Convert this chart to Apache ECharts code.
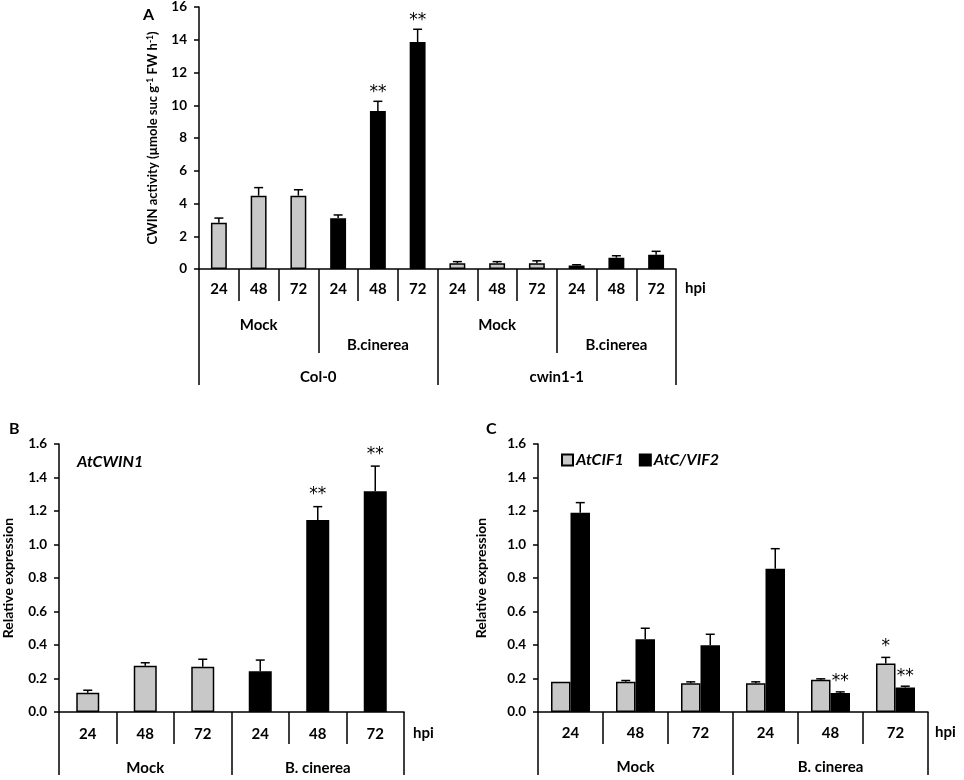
<!DOCTYPE html>
<html>
<head>
<meta charset="utf-8">
<script src="https://cdn.jsdelivr.net/npm/echarts/dist/echarts.min.js"></script>
<style>
html,body{margin:0;padding:0;background:#fff;}
#chart{width:964px;height:780px;}
</style>
</head>
<body>
<div id="chart"></div>
<script>
// ---------- Panel A data ----------
const hpiA = ['24','48','72','24','48','72','24','48','72','24','48','72'];
const treatA = ['Mock','B.cinerea','Mock','B.cinerea'];
const genoA = ['Col-0','cwin1-1'];
const valA = [2.83, 4.48, 4.48, 3.10, 9.65, 13.86, 0.35, 0.35, 0.35, 0.22, 0.69, 0.87];
const errA = [0.28, 0.49, 0.36, 0.20, 0.59, 0.78, 0.10, 0.10, 0.15, 0.04, 0.12, 0.21];
const starA = ['', '', '', '', '**', '**', '', '', '', '', '', ''];
const ticksA = {min: 0, max: 16, interval: 2};

// ---------- Panel B data ----------
const hpiB = ['24','48','72','24','48','72'];
const treatB = ['Mock','B. cinerea'];
const valB = [0.115, 0.276, 0.270, 0.243, 1.146, 1.318];
const errB = [0.015, 0.018, 0.045, 0.067, 0.080, 0.150];
const starB = ['', '', '', '', '**', '**'];

// ---------- Panel C data ----------
const hpiC = ['24','48','72','24','48','72'];
const treatC = ['Mock','B. cinerea'];
const namesC = ['AtCIF1', 'AtC/VIF2'];
const valCIF1 = [0.180, 0.180, 0.172, 0.172, 0.192, 0.290];
const errCIF1 = [0.000, 0.008, 0.008, 0.008, 0.006, 0.036];
const starCIF1 = ['', '', '', '', '', '*'];
const valVIF2 = [1.190, 0.435, 0.398, 0.855, 0.113, 0.147];
const errVIF2 = [0.060, 0.065, 0.066, 0.120, 0.007, 0.007];
const starVIF2 = ['', '', '', '', '**', '**'];
const ticksBC = {min: 0, max: 1.6, interval: 0.2};

// ---------- styles ----------
const FONT = 'Lato';
const STARFONT = 'DejaVu Sans';
const GREY = '#c8c8c8';
const BLACK = '#000000';
const lineSt = {color: '#000', width: 1.5};

function errRender(errs, stars, offFrac, starGap) {
  return function (params, api) {
    const i = api.value(0), v = api.value(1), e = api.value(2);
    const band = api.size([1, 0])[0];
    const p0 = api.coord([i, v]);
    const p1 = api.coord([i, v + e]);
    const x = p0[0] + band * offFrac;
    const children = [];
    if (e > 0) {
      children.push({type: 'line', shape: {x1: x, y1: p0[1], x2: x, y2: p1[1]}, style: {stroke: '#000', lineWidth: 1.5}});
      children.push({type: 'line', shape: {x1: x - 4.5, y1: p1[1], x2: x + 4.5, y2: p1[1]}, style: {stroke: '#000', lineWidth: 1.5}});
    }
    const s = stars[params.dataIndex];
    if (s) {
      children.push({type: 'text', x: x, y: p1[1] - starGap,
        style: {text: s, fill: '#000', font: 'normal 17px "' + STARFONT + '"', align: 'center', verticalAlign: 'middle'}});
    }
    return {type: 'group', children: children};
  };
}

function lvl1Axis(grid, data, margin, nameGap) {
  return {
    type: 'category', gridIndex: grid, position: 'bottom', data: data,
    name: 'hpi', nameLocation: 'end', nameGap: nameGap,
    nameTextStyle: {fontFamily: FONT, fontWeight: 'bold', fontSize: 15, color: '#000', verticalAlign: 'top', padding: [margin - 1, 0, 0, 0]},
    axisLine: {show: true, onZero: false, lineStyle: lineSt},
    axisTick: {show: true, interval: 0, length: 32, lineStyle: lineSt},
    axisLabel: {interval: 0, margin: margin, fontFamily: FONT, fontWeight: 'bold', fontSize: 15, color: '#000'},
    splitLine: {show: false}
  };
}
function lvlNAxis(grid, data, tickLen, margin, stagger) {
  return {
    type: 'category', gridIndex: grid, position: 'bottom', data: data,
    axisLine: {show: false},
    axisTick: {show: true, interval: 0, length: tickLen, lineStyle: lineSt},
    axisLabel: {interval: 0, margin: margin, fontFamily: FONT, fontWeight: 'bold', fontSize: 15, color: '#000', lineHeight: 20,
      formatter: function (v, idx) { return (stagger && idx % 2 === 1) ? '\n' + v : v; }},
    splitLine: {show: false}
  };
}
function yAxisDef(grid, t, name, nameGap, rich, fmt, labelSize) {
  return {
    type: 'value', gridIndex: grid, min: t.min, max: t.max, interval: t.interval,
    name: name, nameLocation: 'middle', nameGap: nameGap, nameRotate: 90,
    nameTextStyle: rich,
    axisLine: {show: true, lineStyle: lineSt},
    axisTick: {show: true, length: 5, lineStyle: lineSt},
    axisLabel: {margin: 12, fontFamily: FONT, fontWeight: 'bold', fontSize: labelSize, color: '#000', formatter: fmt},
    splitLine: {show: false}
  };
}

const barStyle = (isMock) => ({color: isMock ? GREY : BLACK, borderColor: '#000', borderWidth: 1.5});

const option = {
  animation: false,
  backgroundColor: '#fff',
  textStyle: {fontFamily: FONT},
  title: [
    {text: 'A', left: 138, top: 2, textStyle: {fontFamily: FONT, fontWeight: 'bold', fontSize: 16, color: '#000'}},
    {text: 'B', left: 4, top: 416, textStyle: {fontFamily: FONT, fontWeight: 'bold', fontSize: 16, color: '#000'}},
    {text: 'C', left: 481, top: 416, textStyle: {fontFamily: FONT, fontWeight: 'bold', fontSize: 16, color: '#000'}},
    {text: 'AtCWIN1', left: 72, top: 449, textStyle: {fontFamily: FONT, fontWeight: 'bold', fontStyle: 'italic', fontSize: 16, color: '#000'}}
  ],
  legend: {
    data: namesC, left: 556, top: 447, itemWidth: 11, itemHeight: 11, itemGap: 15, icon: 'rect',
    textStyle: {fontFamily: FONT, fontWeight: 'bold', fontStyle: 'italic', fontSize: 16, color: '#000', padding: [0, 0, 0, -2]}
  },
  grid: [
    {left: 199, right: 288, top: 6, bottom: 511},
    {left: 59, right: 560, top: 444, bottom: 68},
    {left: 538, right: 36, top: 444, bottom: 68}
  ],
  xAxis: [
    lvl1Axis(0, hpiA, 13, 9),
    lvlNAxis(0, treatA, 84, 46, true),
    lvlNAxis(0, genoA, 116, 98, false),
    lvl1Axis(1, hpiB, 15, 9),
    lvlNAxis(1, treatB, 63, 46, false),
    lvl1Axis(2, hpiC, 14, 7),
    lvlNAxis(2, treatC, 63, 45, false)
  ],
  yAxis: [
    yAxisDef(0, ticksA, '{a|CWIN activity (µmole suc g}{s|-1}{a| FW h}{s|-1}{a|)}', 40,
      {rich: {a: {fontFamily: FONT, fontWeight: 'bold', fontSize: 13, color: '#000'},
              s: {fontFamily: FONT, fontWeight: 'bold', fontSize: 8.5, color: '#000', verticalAlign: 'top'}}},
      (v) => String(v), 13.5),
    yAxisDef(1, ticksBC, 'Relative expression', 44,
      {fontFamily: FONT, fontWeight: 'bold', fontSize: 14, color: '#000'}, (v) => v.toFixed(1), 13.5),
    yAxisDef(2, ticksBC, 'Relative expression', 50,
      {fontFamily: FONT, fontWeight: 'bold', fontSize: 14, color: '#000'}, (v) => v.toFixed(1), 13.5)
  ],
  series: [
    {type: 'bar', xAxisIndex: 0, yAxisIndex: 0, barCategoryGap: '60%',
      data: valA.map((v, i) => ({value: v, itemStyle: barStyle(treatA[Math.floor(i / 3)] === 'Mock')}))},
    {type: 'custom', xAxisIndex: 0, yAxisIndex: 0, z: 5,
      renderItem: errRender(errA, starA, 0, 9),
      data: valA.map((v, i) => [i, v, errA[i]])},
    {type: 'bar', xAxisIndex: 3, yAxisIndex: 1, barCategoryGap: '60%',
      data: valB.map((v, i) => ({value: v, itemStyle: barStyle(treatB[Math.floor(i / 3)] === 'Mock')}))},
    {type: 'custom', xAxisIndex: 3, yAxisIndex: 1, z: 5,
      renderItem: errRender(errB, starB, 0, 12),
      data: valB.map((v, i) => [i, v, errB[i]])},
    {name: namesC[0], type: 'bar', xAxisIndex: 5, yAxisIndex: 2, barCategoryGap: '40%', barGap: '0%',
      itemStyle: barStyle(true), data: valCIF1},
    {name: namesC[1], type: 'bar', xAxisIndex: 5, yAxisIndex: 2, barCategoryGap: '40%', barGap: '0%',
      itemStyle: barStyle(false), data: valVIF2},
    {type: 'custom', xAxisIndex: 5, yAxisIndex: 2, z: 5,
      renderItem: errRender(errCIF1, starCIF1, -0.15, 11),
      data: valCIF1.map((v, i) => [i, v, errCIF1[i]])},
    {type: 'custom', xAxisIndex: 5, yAxisIndex: 2, z: 5,
      renderItem: errRender(errVIF2, starVIF2, 0.15, 10),
      data: valVIF2.map((v, i) => [i, v, errVIF2[i]])}
  ]
};

const chart = echarts.init(document.getElementById('chart'), null, {renderer: 'canvas'});
chart.setOption(option);
</script>
</body>
</html>
